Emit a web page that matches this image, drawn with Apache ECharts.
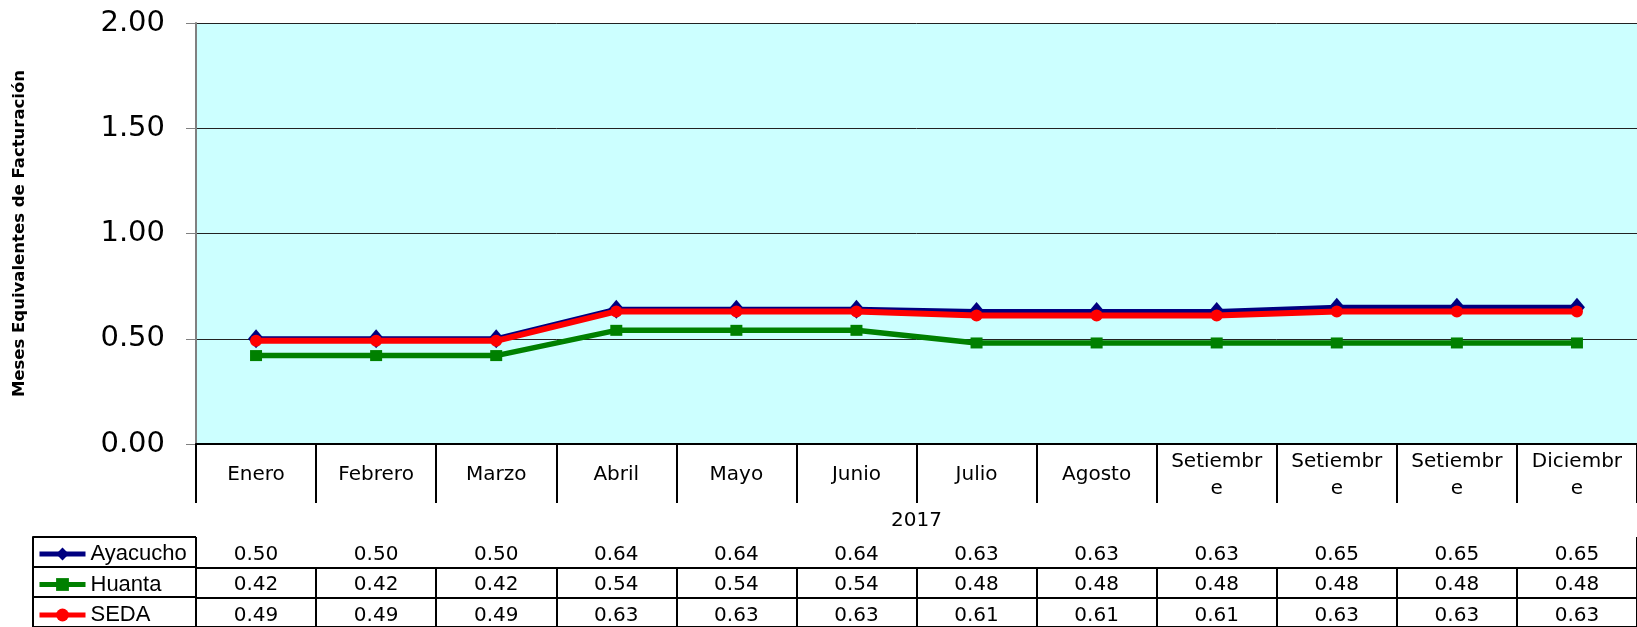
<!DOCTYPE html>
<html>
<head>
<meta charset="utf-8">
<script src="https://cdn.jsdelivr.net/npm/echarts@6/dist/echarts.min.js"></script>
<style>
html, body { margin: 0; padding: 0; background: #fff; }
#chart { width: 1637px; height: 627px; }
</style>
</head>
<body>
<div id="chart"></div>
<script>
// ======================
// DATA
// ======================
const months = ['Enero', 'Febrero', 'Marzo', 'Abril', 'Mayo', 'Junio',
    'Julio', 'Agosto', 'Setiembre', 'Setiembre', 'Setiembre', 'Diciembre'];
const yearLabels = ['2017'];
const seriesNames = ['Ayacucho', 'Huanta', 'SEDA'];
const ayacucho = [0.50, 0.50, 0.50, 0.64, 0.64, 0.64, 0.63, 0.63, 0.63, 0.65, 0.65, 0.65];
const huanta   = [0.42, 0.42, 0.42, 0.54, 0.54, 0.54, 0.48, 0.48, 0.48, 0.48, 0.48, 0.48];
const seda     = [0.49, 0.49, 0.49, 0.63, 0.63, 0.63, 0.61, 0.61, 0.61, 0.63, 0.63, 0.63];
const yMin = 0, yMax = 2, yStep = 0.5;
const yTitle = 'Meses Equivalentes de Facturación';

// ======================
// LAYOUT
// ======================
const plotLeft = 196;
const plotTop = 23;
const axisY = 444;
const monthRowH = 59;
const yearRowH = 34;
const rowH = 30.5;
const legendLeft = 33;
const tableTop = axisY + monthRowH + yearRowH;
const rows = [ayacucho, huanta, seda];
const colors = ['#000080', '#008000', '#ff0000'];
const symbols = ['diamond', 'rect', 'circle'];
const symbolSizes = [[16, 19], [12, 11], [12, 12]];
const lineWidths = [5, 5.5, 6];

const tableFont = 'DejaVu Sans';
const black = { color: '#000', width: 2 };

// Excel wraps the long month names inside the narrow cells
function splitName(name) {
    return name.length > 8 ? name.slice(0, 8) + '\n' + name.slice(8) : name;
}

const grids = [
    { left: plotLeft, right: 0, top: plotTop, height: axisY - plotTop,
      show: true, backgroundColor: '#ccffff', borderWidth: 0 },
    { left: plotLeft, right: 0, top: axisY + monthRowH, height: yearRowH },
];
rows.forEach((r, i) => grids.push({ left: plotLeft, right: 0, top: tableTop + i * rowH, height: rowH }));
grids.push({ left: legendLeft, width: plotLeft - legendLeft, top: tableTop, height: rowH * 3 });

const xAxes = [
    {
        gridIndex: 0, type: 'category', data: months, boundaryGap: true,
        axisLine: { lineStyle: black },
        axisTick: { show: true, interval: 0, length: monthRowH, lineStyle: black },
        axisLabel: {
            interval: 0, margin: 31, verticalAlign: 'middle', lineHeight: 27,
            fontSize: 20, fontFamily: tableFont, color: '#000', formatter: splitName,
        },
    },
    {
        gridIndex: 1, type: 'category', data: yearLabels, position: 'top',
        axisLine: { show: false },
        axisTick: { show: true, inside: true, length: yearRowH, lineStyle: black },
        axisLabel: {
            inside: true, margin: yearRowH / 2 + 1, verticalAlign: 'middle',
            fontSize: 20, fontFamily: tableFont, color: '#000',
        },
    },
];
rows.forEach((r, i) => xAxes.push({
    gridIndex: 2 + i, type: 'category', data: months, position: 'top',
    axisLine: { lineStyle: black },
    axisTick: { show: true, interval: 0, inside: true, length: rowH, lineStyle: black },
    axisLabel: {
        interval: 0, inside: true, margin: rowH / 2 + 2.5, verticalAlign: 'middle',
        fontSize: 20, fontFamily: tableFont, color: '#000',
        formatter: (v, idx) => r[idx].toFixed(2),
    },
}));
xAxes.push({ gridIndex: 5, type: 'value', show: false, min: 0, max: 1 });

const yAxes = [
    {
        gridIndex: 0, type: 'value', min: yMin, max: yMax, interval: yStep,
        name: yTitle, nameLocation: 'middle', nameGap: 168,
        nameTextStyle: { fontSize: 16.5, fontWeight: 'bold', fontFamily: tableFont, color: '#000' },
        axisLine: { show: true, lineStyle: { color: '#808080', width: 2 } },
        axisTick: { show: true, length: 10, lineStyle: { color: '#808080', width: 1 } },
        axisLabel: {
            margin: 31, fontSize: 29, fontFamily: tableFont, color: '#000',
            formatter: v => v.toFixed(2),
        },
        splitLine: { show: true, lineStyle: { color: '#222', width: 1 } },
    },
];
for (let g = 1; g <= 4; g++) yAxes.push({ gridIndex: g, type: 'value', show: false, min: 0, max: 1 });
yAxes.push({
    gridIndex: 5, type: 'category', data: seriesNames, inverse: true,
    axisLine: { show: true, lineStyle: black },
    axisTick: { show: true, inside: true, length: plotLeft - legendLeft, lineStyle: black },
    axisLabel: { show: false },
});

const series = rows.map((r, i) => ({
    name: seriesNames[i],
    type: 'line',
    xAxisIndex: 0,
    yAxisIndex: 0,
    data: r,
    symbol: symbols[i],
    symbolSize: symbolSizes[i],
    lineStyle: { color: colors[i], width: lineWidths[i] },
    itemStyle: { color: colors[i] },
    z: 2 + i,
}));

const chart = echarts.init(document.getElementById('chart'), null, { renderer: 'canvas' });
chart.setOption({
    animation: false,
    grid: grids,
    xAxis: xAxes,
    yAxis: yAxes,
    legend: {
        data: seriesNames,
        orient: 'vertical',
        left: legendLeft + 4,
        top: tableTop + 6,
        padding: 0,
        itemWidth: 46,
        itemHeight: 16,
        itemGap: 8.5,
        lineStyle: { width: 5 },
        textStyle: { fontSize: 22, fontFamily: 'Liberation Sans', color: '#000' },
    },
    series: series,
});
</script>
</body>
</html>
